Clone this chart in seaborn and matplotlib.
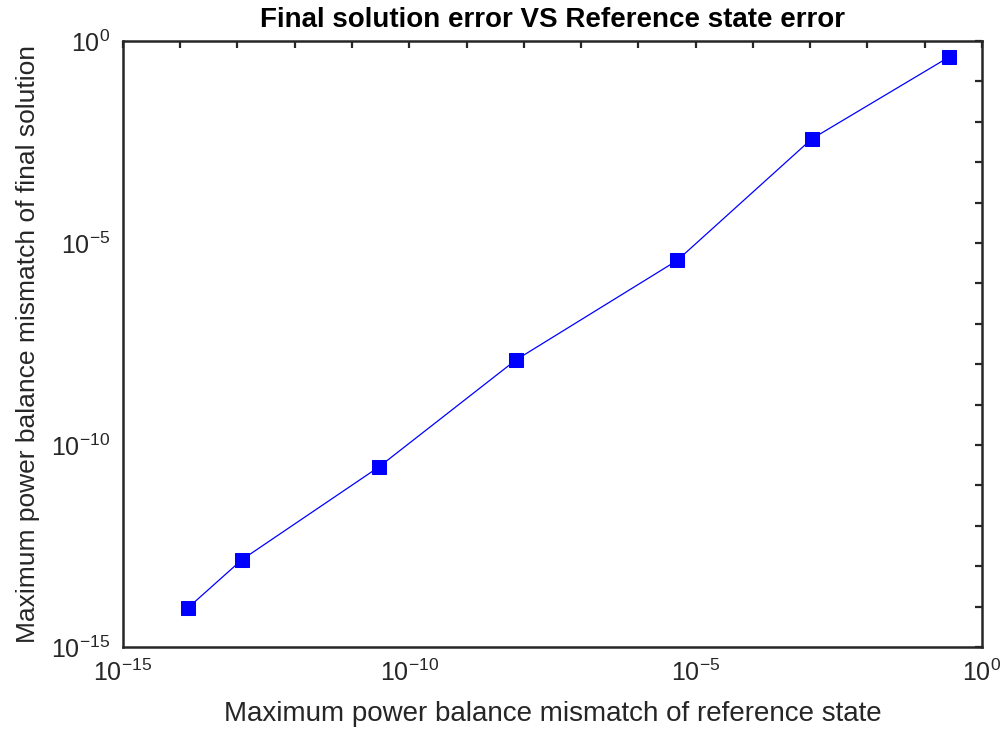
import numpy as np
import pandas as pd
import matplotlib
matplotlib.use("Agg")
import matplotlib.pyplot as plt
import matplotlib.ticker as mticker
import seaborn as sns

ref_error = [1.38e-14, 1.2e-13, 2.95e-11, 7.3e-9, 4.8e-6, 1.07e-3, 0.268]
final_error = [9.4e-15, 1.45e-13, 2.85e-11, 1.27e-8, 3.7e-6, 3.75e-3, 0.40]

sns.set_theme(style="white")
plt.rcParams['font.family'] = ['Liberation Sans', 'DejaVu Sans']
plt.rcParams['mathtext.fontset'] = 'custom'
plt.rcParams['mathtext.rm'] = 'Liberation Sans'
plt.rcParams['mathtext.it'] = 'Liberation Sans'
plt.rcParams['mathtext.default'] = 'regular'

df = pd.DataFrame({"ref": ref_error, "final": final_error})

fig = plt.figure(figsize=(10.08, 7.31), dpi=100)
ax = fig.add_axes([0.122, 0.115, 0.852, 0.829])
sns.lineplot(data=df, x="ref", y="final", ax=ax, color="#0000ff", linewidth=0.9,
             marker="s", markersize=9.5, markeredgecolor="#0000ff", sort=False)
ax.set_xscale("log")
ax.set_yscale("log")
ax.set_xlim(1e-15, 1e0)
ax.set_ylim(1e-15, 1e0)

major = [10.0**e for e in range(-15, 1, 5)]
minor = [10.0**e for e in range(-15, 1)]
for axis in (ax.xaxis, ax.yaxis):
    axis.set_major_locator(mticker.FixedLocator(major))
    axis.set_minor_locator(mticker.FixedLocator(minor))
    axis.set_major_formatter(mticker.FuncFormatter(lambda v, p: r"$10^{%d}$" % round(np.log10(v))))
    axis.set_minor_formatter(mticker.NullFormatter())

ax.tick_params(which="both", direction="in", length=5, width=1.6, color="#262626",
               top=True, right=True, labelsize=18, labelcolor="#262626", pad=9)
for s in ax.spines.values():
    s.set_linewidth(1.8)
    s.set_color("#262626")

ax.set_xlabel("Maximum power balance mismatch of reference state", fontsize=20, color="#262626", labelpad=11)
ax.set_ylabel("Maximum power balance mismatch of final solution", fontsize=19, color="#262626", labelpad=8)
ax.set_title("Final solution error VS Reference state error", fontsize=20, fontweight="bold", color="black", pad=10)
ax.grid(False)

fig.savefig("out.png", dpi=100)
